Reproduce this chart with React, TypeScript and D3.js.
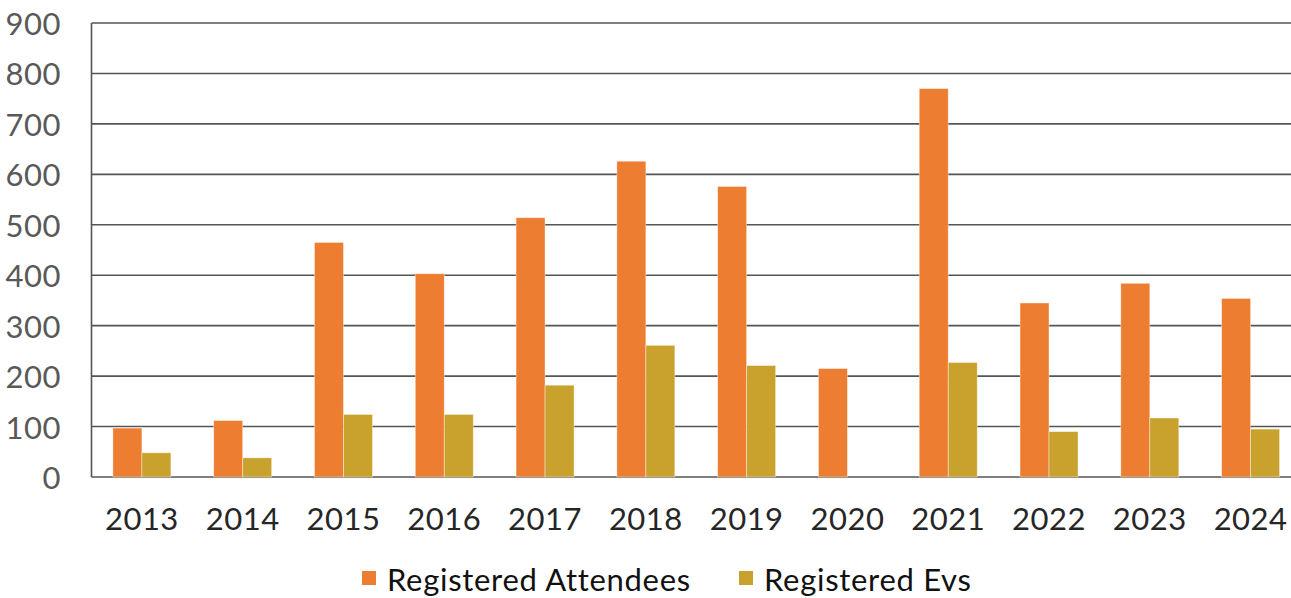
import { max, scaleBand, scaleLinear } from 'd3'

const WIDTH = 1291
const HEIGHT = 598
const LEFT = 91.5
const RIGHT = 1301
const TOP = 23
const BOTTOM = 477

const years = ['2013', '2014', '2015', '2016', '2017', '2018', '2019', '2020', '2021', '2022', '2023', '2024']
const attendees = [97, 112, 465, 403, 514, 626, 576, 215, 770, 345, 384, 354]
const evs = [48, 38, 124, 124, 182, 261, 221, 0, 227, 90, 117, 95]
const yTicks = [0, 100, 200, 300, 400, 500, 600, 700, 800, 900]

const series = [
  { name: 'Registered Attendees', values: attendees, color: '#ED7D31' },
  { name: 'Registered Evs', values: evs, color: '#C9A22D' },
]

const FONT = 'Lato, "Open Sans", sans-serif'

export default function App() {
  const x = scaleBand<string>().domain(years).range([LEFT, RIGHT]).paddingInner(0).paddingOuter(0)
  const y = scaleLinear()
    .domain([0, max(yTicks) ?? 900])
    .range([BOTTOM, TOP])
  const barW = x.bandwidth() * 0.2877
  const groupW = barW * series.length

  const legendX = [362, 739]

  return (
    <svg width={WIDTH} height={HEIGHT} style={{ position: 'absolute', left: 0, top: 0, overflow: 'hidden' }}>
      <rect width={WIDTH} height={HEIGHT} fill="#fff" />
      {yTicks.map((t) => (
        <g key={t}>
          <line x1={LEFT} x2={RIGHT} y1={y(t)} y2={y(t)} stroke="#555" strokeWidth={1.6} />
          <text
            x={61}
            y={y(t)}
            textAnchor="end"
            dominantBaseline="central"
            fontFamily={FONT}
            fontSize={31}
            letterSpacing={0.5}
            fill="#595959"
          >
            {t}
          </text>
        </g>
      ))}
      <line x1={LEFT} x2={LEFT} y1={TOP} y2={BOTTOM} stroke="#555" strokeWidth={1.6} />
      {years.map((yr, i) => {
        const cx = (x(yr) ?? 0) + x.bandwidth() / 2
        return (
          <g key={yr}>
            {series.map((s, j) => {
              const v = s.values[i]
              if (!v) return null
              return (
                <rect
                  key={s.name}
                  x={cx - groupW / 2 + j * barW}
                  y={y(v)}
                  width={barW}
                  height={BOTTOM - y(v)}
                  fill={s.color}
                  stroke="#fff"
                  strokeOpacity={0.5}
                  strokeWidth={0.8}
                />
              )
            })}
            <text x={cx} y={530} textAnchor="middle" fontFamily={FONT} fontSize={31} letterSpacing={0.5} fill="#262626">
              {yr}
            </text>
          </g>
        )
      })}
      {series.map((s, j) => (
        <g key={s.name} transform={`translate(${legendX[j]},0)`}>
          <rect x={0} y={571} width={14} height={14} fill={s.color} />
          <text x={25} y={591} fontFamily={FONT} fontSize={31} letterSpacing={0.7} fill="#111">
            {s.name}
          </text>
        </g>
      ))}
    </svg>
  )
}
